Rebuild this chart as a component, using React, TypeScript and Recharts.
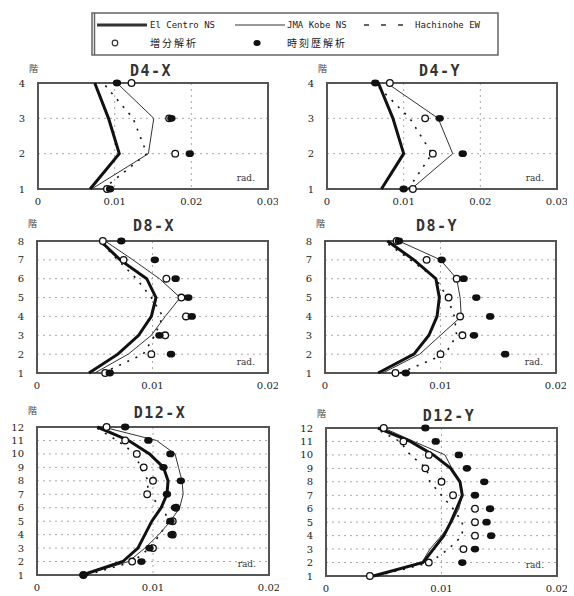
import React from 'react';
import { ScatterChart, Scatter, XAxis, YAxis, CartesianGrid, ReferenceArea } from 'recharts';

// ---- legend labels ----
const SERIES_NAMES = ['El Centro NS', 'JMA Kobe NS', 'Hachinohe EW'];
const MARKER_NAMES = ['増分解析', '時刻歴解析'];

// ---- stories ----
const STORIES_4 = [1, 2, 3, 4];
const STORIES_8 = [1, 2, 3, 4, 5, 6, 7, 8];
const STORIES_12 = [1, 2, 3, 4, 5, 6, 7, 8, 9, 10, 11, 12];

// ---- x ticks ----
const TICKS_003 = [0, 0.01, 0.02, 0.03];
const TICKS_002 = [0, 0.01, 0.02];

// ---- D4-X ----
const D4X_EL = [0.0068, 0.0106, 0.0092, 0.0074];
const D4X_KOBE = [0.007, 0.0144, 0.0151, 0.0103];
const D4X_HACHI = [0.0085, 0.0142, 0.0124, 0.0085];
const D4X_PUSH = [0.009, 0.0179, 0.0171, 0.0122];
const D4X_TH = [0.0094, 0.0198, 0.0174, 0.0103];

// ---- D4-Y ----
const D4Y_EL = [0.0071, 0.01, 0.0086, 0.0067];
const D4Y_KOBE = [0.011, 0.0164, 0.0145, 0.0078];
const D4Y_HACHI = [0.0106, 0.0137, 0.0108, 0.0062];
const D4Y_PUSH = [0.0112, 0.0138, 0.0128, 0.0082];
const D4Y_TH = [0.01, 0.0177, 0.0147, 0.0063];

// ---- D8-X ----
const D8X_EL = [0.0045, 0.007, 0.0088, 0.0099, 0.0103, 0.0095, 0.0072, 0.0055];
const D8X_KOBE = [0.005, 0.0079, 0.0099, 0.0111, 0.0124, 0.0106, 0.0083, 0.0059];
const D8X_HACHI = [0.0057, 0.0092, 0.0102, 0.0109, 0.0099, 0.0086, 0.007, 0.0054];
const D8X_PUSH = [0.0059, 0.0099, 0.0111, 0.0129, 0.0125, 0.0112, 0.0075, 0.0057];
const D8X_TH = [0.0063, 0.0116, 0.0106, 0.0134, 0.0131, 0.012, 0.0102, 0.0073];

// ---- D8-Y ----
const D8Y_EL = [0.0046, 0.0077, 0.009, 0.0097, 0.0099, 0.0096, 0.0077, 0.0054];
const D8Y_KOBE = [0.005, 0.0082, 0.01, 0.0118, 0.0117, 0.0114, 0.01, 0.0064];
const D8Y_HACHI = [0.0065, 0.0104, 0.0114, 0.0112, 0.0106, 0.0096, 0.0074, 0.0051];
const D8Y_PUSH = [0.0061, 0.01, 0.0119, 0.0117, 0.0107, 0.0114, 0.0088, 0.0062];
const D8Y_TH = [0.007, 0.0156, 0.0129, 0.0143, 0.0131, 0.012, 0.0101, 0.0064];

// ---- D12-X ----
const D12X_EL = [0.0039, 0.0074, 0.0087, 0.0093, 0.0099, 0.0107, 0.0112, 0.0113, 0.0109, 0.0097, 0.0079, 0.0052];
const D12X_KOBE = [0.004, 0.0079, 0.0093, 0.0105, 0.0115, 0.0123, 0.0126, 0.0125, 0.0122, 0.0119, 0.0103, 0.0057];
const D12X_HACHI = [0.0043, 0.0083, 0.0097, 0.0106, 0.0113, 0.0109, 0.0095, 0.0096, 0.0089, 0.0085, 0.0069, 0.005];
const D12X_PUSH = [0.004, 0.0082, 0.01, 0.0117, 0.0117, 0.012, 0.0095, 0.01, 0.0092, 0.0086, 0.0076, 0.006];
const D12X_TH = [0.004, 0.009, 0.0097, 0.0116, 0.0115, 0.0119, 0.0112, 0.0124, 0.0109, 0.0115, 0.0096, 0.0076];

// ---- D12-Y ----
const D12Y_EL = [0.0041, 0.0084, 0.0093, 0.0102, 0.0108, 0.0113, 0.0118, 0.0116, 0.0108, 0.0093, 0.0073, 0.0045];
const D12Y_KOBE = [0.004, 0.0083, 0.009, 0.01, 0.0109, 0.0115, 0.0118, 0.0116, 0.0109, 0.0103, 0.0076, 0.005];
const D12Y_HACHI = [0.0044, 0.009, 0.0106, 0.0118, 0.0118, 0.011, 0.01, 0.009, 0.0087, 0.0073, 0.0064, 0.0042];
const D12Y_PUSH = [0.0038, 0.0089, 0.0119, 0.0129, 0.0129, 0.0129, 0.011, 0.01, 0.0086, 0.0089, 0.0067, 0.005];
const D12Y_TH = [null, 0.0118, 0.0129, 0.0143, 0.0139, 0.0142, 0.0129, 0.0137, 0.0122, 0.0115, 0.0095, 0.0086];

type Pt = { x: number; y: number };
const pts = (stories: number[], vals: (number | null)[]): Pt[] =>
  stories.map((s, i) => ({ x: vals[i] as number, y: s })).filter((p) => p.x !== null && p.x !== undefined);

const PANELS = [
  { title: 'D4-X', stories: STORIES_4, ticks: TICKS_003, el: D4X_EL, kobe: D4X_KOBE, hachi: D4X_HACHI, push: D4X_PUSH, th: D4X_TH, cx: 0, L: 38, R: 268, T: 83, B: 189, titleX: 151, titleY: 71 },
  { title: 'D4-Y', stories: STORIES_4, ticks: TICKS_003, el: D4Y_EL, kobe: D4Y_KOBE, hachi: D4Y_HACHI, push: D4Y_PUSH, th: D4Y_TH, cx: 287, L: 327, R: 557, T: 83, B: 189, titleX: 440, titleY: 71 },
  { title: 'D8-X', stories: STORIES_8, ticks: TICKS_002, el: D8X_EL, kobe: D8X_KOBE, hachi: D8X_HACHI, push: D8X_PUSH, th: D8X_TH, cx: 0, L: 37, R: 268, T: 241, B: 373, titleX: 154, titleY: 226 },
  { title: 'D8-Y', stories: STORIES_8, ticks: TICKS_002, el: D8Y_EL, kobe: D8Y_KOBE, hachi: D8Y_HACHI, push: D8Y_PUSH, th: D8Y_TH, cx: 287, L: 325, R: 556, T: 241, B: 373, titleX: 437, titleY: 226 },
  { title: 'D12-X', stories: STORIES_12, ticks: TICKS_002, el: D12X_EL, kobe: D12X_KOBE, hachi: D12X_HACHI, push: D12X_PUSH, th: D12X_TH, cx: 0, L: 37, R: 269, T: 427, B: 575, titleX: 160, titleY: 413 },
  { title: 'D12-Y', stories: STORIES_12, ticks: TICKS_002, el: D12Y_EL, kobe: D12Y_KOBE, hachi: D12Y_HACHI, push: D12Y_PUSH, th: D12Y_TH, cx: 287, L: 326, R: 557, T: 428, B: 576, titleX: 449, titleY: 416 },
];

const NoShape = () => <g />;
const OpenMark = (p: any) => (
  <circle cx={p.cx} cy={p.cy} r={3.3} fill="#fff" stroke="#111" strokeWidth={1.3} />
);
const FilledMark = (p: any) => <ellipse cx={p.cx} cy={p.cy} rx={4.2} ry={3.4} fill="#111" />;

const TICK_FONT = { fontFamily: '"DejaVu Serif", serif', fontSize: 10, fill: '#222' };
const fmtX = (v: number) => (v === 0 ? '0' : v.toFixed(2));

function Panel({ p }: { p: (typeof PANELS)[number] }) {
  const mTop = 10;
  const mRight = 10;
  const xAxisH = 30;
  const cy = p.T - mTop;
  const w = p.R - p.cx + mRight;
  const h = p.B - p.T + mTop + xAxisH;
  const xMax = p.ticks[p.ticks.length - 1];
  const n = p.stories.length;
  return (
    <>
      <div style={{ position: 'absolute', left: p.cx, top: cy }}>
        <ScatterChart width={w} height={h} margin={{ top: mTop, right: mRight, bottom: 0, left: 0 }}>
          <CartesianGrid strokeDasharray="2 4" stroke="#a8a8a8" />
          <XAxis
            type="number"
            dataKey="x"
            domain={[0, xMax]}
            ticks={p.ticks}
            interval={0}
            tickFormatter={fmtX}
            axisLine={false}
            tickLine={false}
            tickSize={0}
            tickMargin={9}
            height={xAxisH}
            tick={TICK_FONT}
          />
          <YAxis
            type="number"
            dataKey="y"
            domain={[1, n]}
            ticks={p.stories}
            interval={0}
            axisLine={false}
            tickLine={false}
            tickSize={0}
            tickMargin={13}
            width={p.L - p.cx}
            tick={TICK_FONT}
          />
          <ReferenceArea x1={0} x2={xMax} y1={1} y2={n} fill="none" stroke="#555" strokeWidth={2} />
          <Scatter data={pts(p.stories, p.hachi)} shape={NoShape} line={{ stroke: '#111', strokeWidth: 1.6, strokeDasharray: '2 7' }} isAnimationActive={false} />
          <Scatter data={pts(p.stories, p.kobe)} shape={NoShape} line={{ stroke: '#333', strokeWidth: 1 }} isAnimationActive={false} />
          <Scatter data={pts(p.stories, p.el)} shape={NoShape} line={{ stroke: '#111', strokeWidth: 3 }} isAnimationActive={false} />
          <Scatter data={pts(p.stories, p.push)} shape={OpenMark} isAnimationActive={false} />
          <Scatter data={pts(p.stories, p.th)} shape={FilledMark} isAnimationActive={false} />
        </ScatterChart>
      </div>
      <div
        style={{
          position: 'absolute',
          left: p.titleX - 50,
          width: 100,
          top: p.titleY - 10,
          textAlign: 'center',
          fontFamily: '"DejaVu Sans Mono", monospace',
          fontWeight: 'bold',
          fontSize: 15,
          letterSpacing: 1.5,
          lineHeight: '20px',
          color: '#333',
        }}
      >
        {p.title}
      </div>
      <div
        style={{
          position: 'absolute',
          left: p.L - 9,
          top: p.titleY - 8,
          fontFamily: '"Noto Sans CJK JP", sans-serif',
          fontSize: 9,
          lineHeight: '12px',
          color: '#444',
        }}
      >
        階
      </div>
      <div
        style={{
          position: 'absolute',
          left: p.R - 60,
          width: 47,
          top: p.B - 17,
          textAlign: 'right',
          fontFamily: '"DejaVu Serif", serif',
          fontSize: 9,
          lineHeight: '12px',
          color: '#333',
        }}
      >
        rad.
      </div>
    </>
  );
}

function LegendBox() {
  const lat = { fontFamily: '"DejaVu Sans Mono", monospace', fontSize: 9, fill: '#222' };
  const cjk = { fontFamily: '"Noto Sans CJK JP", sans-serif', fontSize: 10, fill: '#222', letterSpacing: 2 };
  return (
    <svg width={574} height={60} style={{ position: 'absolute', left: 0, top: 0 }}>
      <rect x={92} y={13} width={406} height={42} fill="none" stroke="#666" strokeWidth={1.5} />
      <line x1={94.5} y1={13} x2={94.5} y2={55} stroke="#666" strokeWidth={1.5} />
      <line x1={97} y1={25} x2={147} y2={25} stroke="#333" strokeWidth={3} />
      <text x={150} y={28} {...lat}>{SERIES_NAMES[0]}</text>
      <line x1={235} y1={25} x2={285} y2={25} stroke="#333" strokeWidth={1} />
      <text x={287} y={28} {...lat}>{SERIES_NAMES[1]}</text>
      <line x1={364} y1={25} x2={406} y2={25} stroke="#333" strokeWidth={1.6} strokeDasharray="5 12" />
      <text x={415} y={28} {...lat}>{SERIES_NAMES[2]}</text>
      <circle cx={115} cy={43} r={2.8} fill="#fff" stroke="#333" strokeWidth={1.2} />
      <text x={150} y={47} {...cjk}>{MARKER_NAMES[0]}</text>
      <ellipse cx={257} cy={43} rx={3.6} ry={3} fill="#111" />
      <text x={287} y={47} {...cjk}>{MARKER_NAMES[1]}</text>
    </svg>
  );
}

export default function App() {
  return (
    <div style={{ position: 'absolute', left: 0, top: 0, width: 574, height: 596, background: '#fff', overflow: 'hidden' }}>
      <LegendBox />
      {PANELS.map((p) => (
        <Panel key={p.title} p={p} />
      ))}
    </div>
  );
}
